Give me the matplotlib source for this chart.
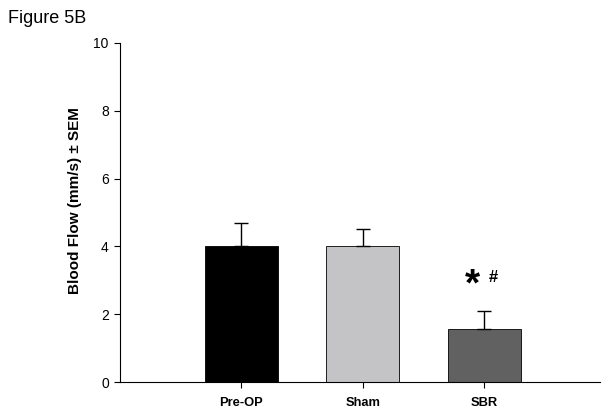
import matplotlib
matplotlib.use("Agg")
import matplotlib.pyplot as plt

plt.rcParams['font.family'] = ['Liberation Sans', 'DejaVu Sans']

categories = ["Pre-OP", "Sham", "SBR"]
values = [4.0, 4.0, 1.57]
sem = [0.70, 0.50, 0.52]
colors = ["#000000", "#c4c3c5", "#626162"]
yticks = [0, 2, 4, 6, 8, 10]

fig = plt.figure(figsize=(6.12, 4.13), dpi=100)
ax = fig.add_axes([0.196, 0.075, 0.784, 0.821])

x = list(range(len(categories)))
ax.bar(x, values, width=0.6, color=colors, edgecolor="#000000", linewidth=0.6, zorder=2)
ax.errorbar(x, values, yerr=[[0]*len(sem), sem], fmt="none", ecolor="black",
            elinewidth=1.0, capsize=5, capthick=1.0, zorder=3)

ax.set_xlim(-1.0, 2.95)
ax.set_ylim(0, 10)
ax.set_yticks(yticks)
ax.set_xticks(x)
ax.set_xticklabels(categories, fontsize=9.3, fontweight="bold")
ax.tick_params(axis='y', labelsize=10, direction='out', length=4, width=0.8, pad=4)
ax.tick_params(axis='x', direction='out', length=4.5, width=0.8, pad=6)
ax.spines['top'].set_visible(False)
ax.spines['right'].set_visible(False)
ax.spines['left'].set_linewidth(0.8)
ax.spines['bottom'].set_linewidth(0.8)
ax.set_ylabel("Blood Flow (mm/s) \u00b1 SEM", fontsize=11, fontweight="bold")
ax.yaxis.set_label_coords(-0.079, 0.534)

ax.text(1.90, 2.85, "*", fontsize=28, fontweight="bold", ha="center", va="center")
ax.text(2.07, 3.07, "#", fontsize=12, fontweight="bold", ha="center", va="center")

fig.text(0.013, 0.975, "Figure 5B", fontsize=13, ha="left", va="top")

fig.savefig("out.png", dpi=100)
